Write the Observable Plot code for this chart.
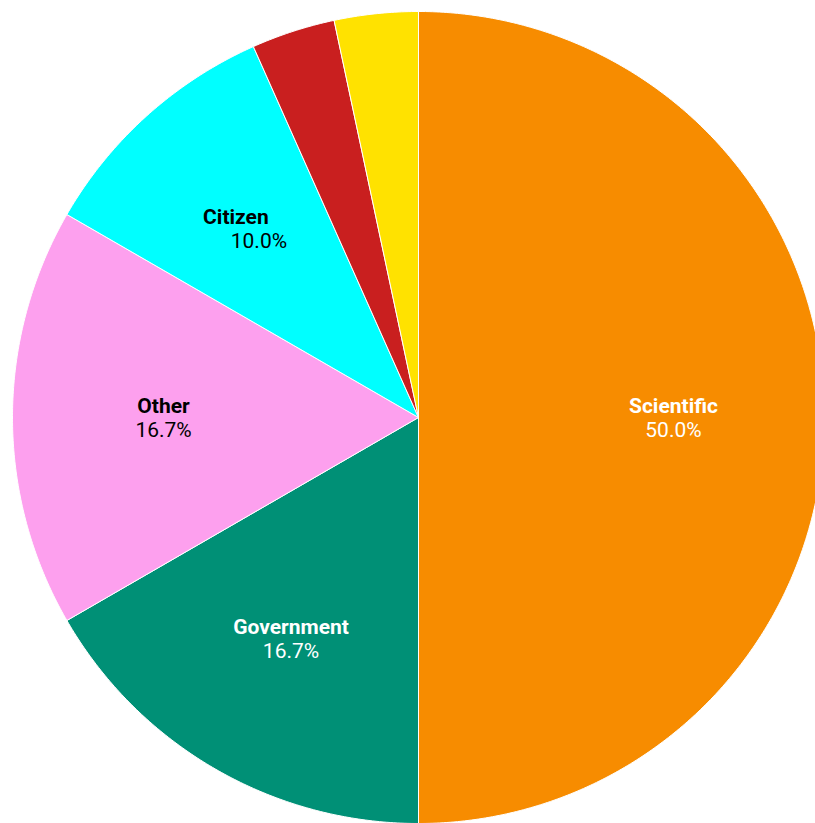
<!DOCTYPE html>
<html>
<head>
<meta charset="utf-8">
<script src="https://cdn.jsdelivr.net/npm/d3@7"></script>
<script src="https://cdn.jsdelivr.net/npm/@observablehq/plot@0.6"></script>
<style>
  html, body { margin: 0; padding: 0; background: #fff; overflow: hidden; }
</style>
</head>
<body>
<div id="chart"></div>
<script>
const categories = ["Scientific", "Government", "Other", "Citizen", "Industry", "Media"];
const counts = [15, 5, 5, 3, 1, 1];
const colors = ["#F78C00", "#009076", "#FDA0EE", "#00FFFF", "#C91F1F", "#FFE200"];
const labelColors = ["#ffffff", "#ffffff", "#000000", "#000000", null, null];
const showLabel = [true, true, true, true, false, false];
const nameNudge = [0, 0, 0, -12, 0, 0];
const pctNudge = [0, 0, 0, 11, 0, 0];

const total = d3.sum(counts);
let acc = 0;
const slices = categories.map((c, i) => {
  const a0 = acc / total * 2 * Math.PI;
  acc += counts[i];
  const a1 = acc / total * 2 * Math.PI;
  return {category: c, value: counts[i], a0, a1, color: colors[i], i};
});

// polygon vertices (unit circle, angle clockwise from top)
const pts = [];
for (const s of slices) {
  pts.push({category: s.category, x: 0, y: 0, color: s.color});
  const n = Math.max(2, Math.ceil((s.a1 - s.a0) / (Math.PI / 360)));
  for (let k = 0; k <= n; k++) {
    const a = s.a0 + (s.a1 - s.a0) * k / n;
    pts.push({category: s.category, x: Math.sin(a), y: Math.cos(a), color: s.color});
  }
  pts.push({category: s.category, x: 0, y: 0, color: s.color});
}

const lr = 0.628;
const labels = slices.filter((s, i) => showLabel[i]).map(s => {
  const a = (s.a0 + s.a1) / 2;
  return {
    name: s.category,
    pct: (s.value / total * 100).toFixed(1) + "%",
    x: lr * Math.sin(a),
    y: lr * Math.cos(a),
    color: labelColors[s.i],
    dxName: nameNudge[s.i],
    dxPct: pctNudge[s.i]
  };
});

const chart = Plot.plot({
  width: 815,
  height: 823,
  margin: 0,
  style: {fontFamily: "Roboto, sans-serif", background: "#fff"},
  x: {domain: [-1, 1], range: [12, 824], axis: null},
  y: {domain: [-1, 1], range: [823, 11], axis: null},
  color: {type: "identity"},
  marks: [
    Plot.line(pts, {x: "x", y: "y", z: "category", fill: "color", stroke: "#ffffff", strokeWidth: 1, strokeLinejoin: "round", curve: "linear"}),
    ...labels.map(l => Plot.text([l], {x: "x", y: "y", text: "name", fill: "color", fontSize: 21, fontWeight: "bold", dy: -11, dx: l.dxName})),
    ...labels.map(l => Plot.text([l], {x: "x", y: "y", text: "pct", fill: "color", fontSize: 21, dy: 13, dx: l.dxPct}))
  ]
});
document.getElementById("chart").appendChild(chart);
</script>
</body>
</html>
